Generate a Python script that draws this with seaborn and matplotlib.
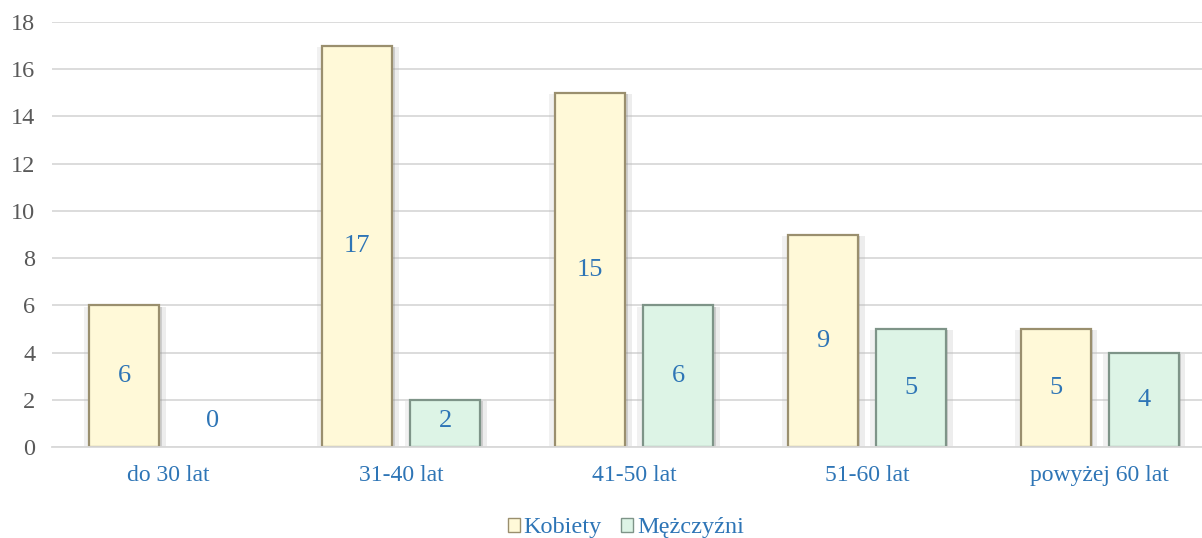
import pandas as pd
import numpy as np
import matplotlib.pyplot as plt
import matplotlib.patheffects as pe
import seaborn as sns

# data
age_groups = ["do 30 lat", "31-40 lat", "41-50 lat", "51-60 lat", "powyżej 60 lat"]
kobiety = [6, 17, 15, 9, 5]
mezczyzni = [0, 2, 6, 5, 4]
series = ["Kobiety", "Mężczyźni"]
y_ticks = [0, 2, 4, 6, 8, 10, 12, 14, 16, 18]

df = pd.DataFrame({
    "Grupa": age_groups * 2,
    "Liczba": kobiety + mezczyzni,
    "Płeć": [series[0]] * len(age_groups) + [series[1]] * len(age_groups),
})

sns.set_style("white")
plt.rcParams["font.family"] = ["Liberation Serif", "DejaVu Serif"]

blue = "#2E75B6"
fills = {"Kobiety": "#FFF9D8", "Mężczyźni": "#DDF4E6"}
edges = {"Kobiety": "#9A8F6E", "Mężczyźni": "#7E9488"}

fig = plt.figure(figsize=(12.02, 5.38), dpi=100)
ax = fig.add_axes([52 / 1202, 1 - 447 / 538, 1150 / 1202, (447 - 22) / 538])

sns.barplot(data=df, x="Grupa", y="Liczba", hue="Płeć", palette=fills,
            saturation=1, width=0.756, gap=0.206, ax=ax, legend=True)

# edges + soft shadow
for cont, name in zip(ax.containers, series):
    for bar, v in zip(cont, cont.datavalues):
        if v == 0:
            bar.set_visible(False)
            continue
        bar.set_edgecolor(edges[name])
        bar.set_linewidth(1.6)
        bar.set_path_effects([
            pe.SimplePatchShadow(offset=(5, -1), shadow_rgbFace="#bbbbbb", alpha=0.25),
            pe.SimplePatchShadow(offset=(-4, -1), shadow_rgbFace="#bbbbbb", alpha=0.2),
            pe.SimplePatchShadow(offset=(2, -1), shadow_rgbFace="#888888", alpha=0.3),
            pe.Normal(),
        ])
    for bar, v in zip(cont, cont.datavalues):
        cx = bar.get_x() + bar.get_width() / 2
        ax.text(cx, max(v / 2, 1.1), f"{int(v)}", ha="center", va="center",
                color=blue, fontsize=19)

ax.set_xlim(-0.5, 4.44)
ax.set_ylim(0, 18)
ax.set_yticks(y_ticks)
ax.yaxis.grid(True, color="#D9D9D9", linewidth=1.3)
ax.set_axisbelow(True)
for s in ["top", "right", "left"]:
    ax.spines[s].set_visible(False)
ax.spines["bottom"].set_color("#D9D9D9")
ax.spines["bottom"].set_linewidth(1.3)
ax.tick_params(axis="y", length=0, labelsize=17.5, labelcolor="#595959", pad=12)
ax.tick_params(axis="x", length=0, labelsize=17, labelcolor=blue, pad=13)
ax.set_xlabel("")
ax.set_ylabel("")

handles, labels = ax.get_legend_handles_labels()
for h, name in zip(handles, series):
    h.set_edgecolor(edges[name])
leg = ax.legend(handles, labels, loc="center", bbox_to_anchor=(0.499, -0.19),
                ncol=2, frameon=False, fontsize=17.5, handlelength=0.5, handleheight=0.5,
                handletextpad=0.15, columnspacing=0.8)
for t in leg.get_texts():
    t.set_color(blue)

fig.savefig("out.png", dpi=100)
